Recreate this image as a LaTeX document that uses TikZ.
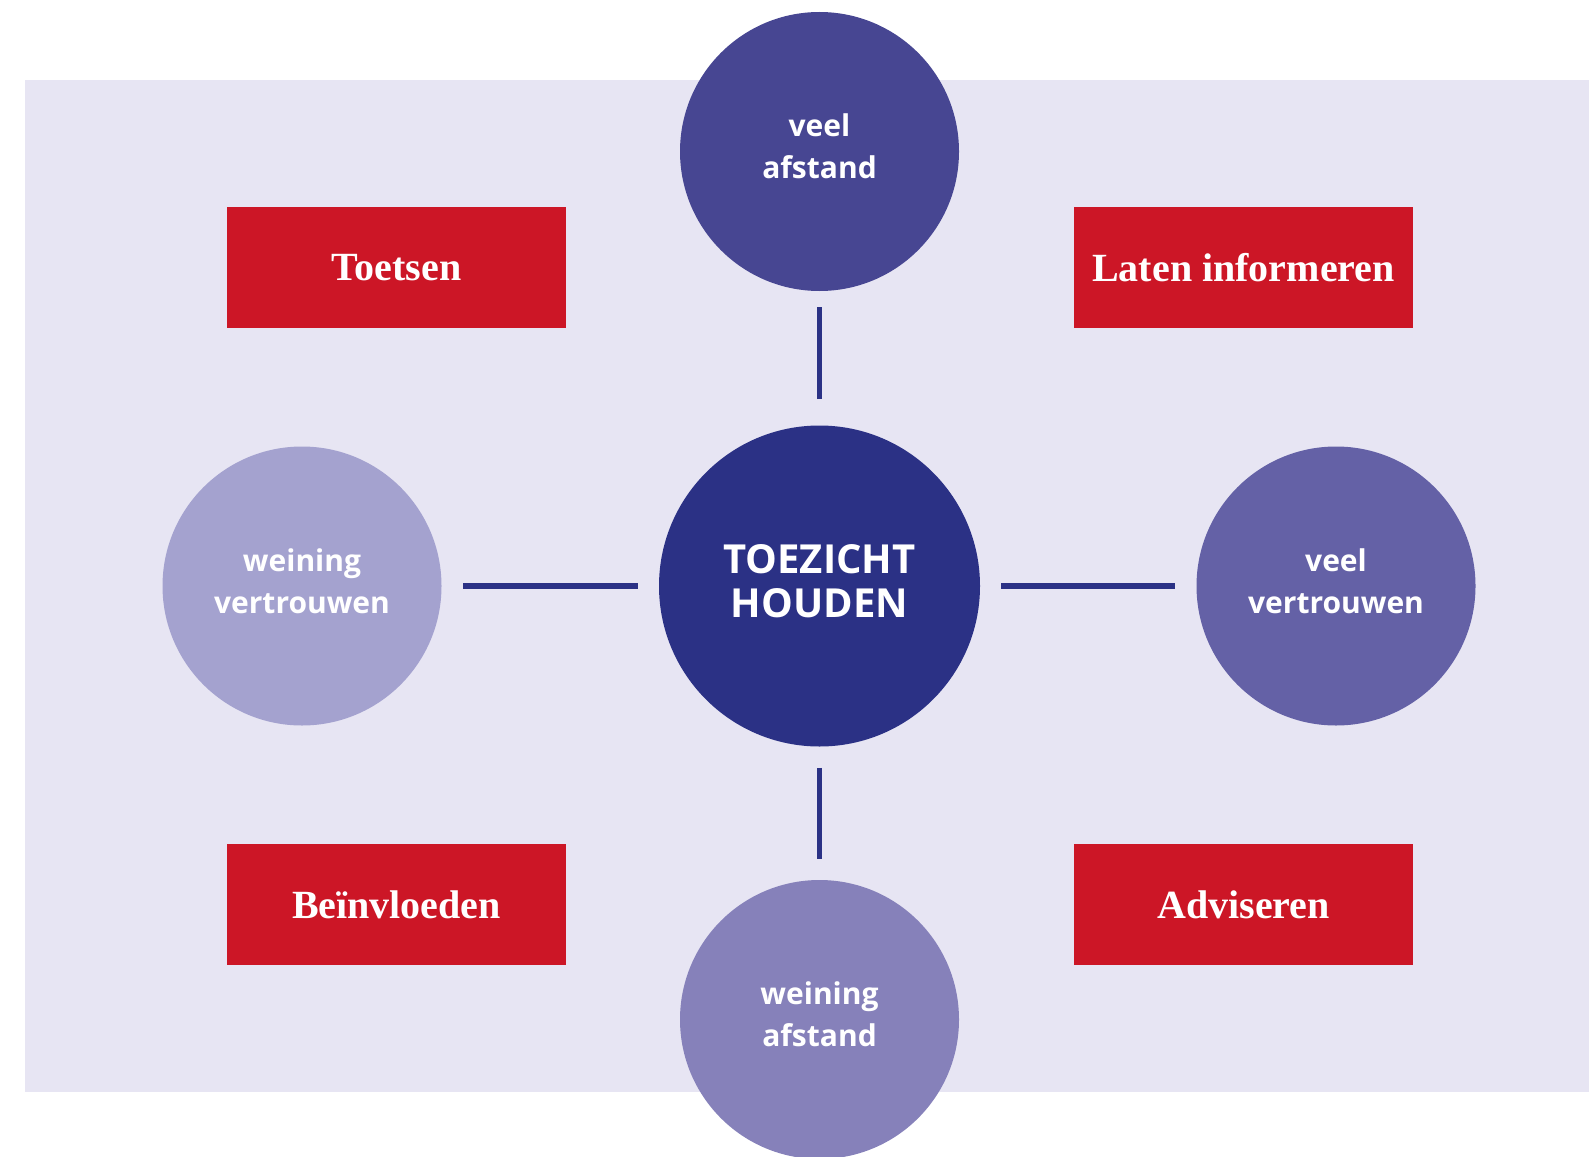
\documentclass[tikz,border=0pt]{standalone}
\usepackage{fontspec}
\setmainfont{Liberation Serif}
\newfontfamily\ringfont{Open Sans}

\definecolor{lavender}{HTML}{E7E5F3}
\definecolor{boxred}{HTML}{CC1626}
\definecolor{navy}{HTML}{2B3185}
\definecolor{ringtop}{HTML}{474692}
\definecolor{ringleft}{HTML}{A4A2CF}
\definecolor{ringright}{HTML}{6461A6}
\definecolor{ringbottom}{HTML}{8681BA}

\begin{document}
\begin{tikzpicture}[x=.5pt, y=-.5pt,
	ring/.style={circle, inner sep=0, text=white, align=center, minimum size=139.5pt,
		font=\ringfont\bfseries\fontsize{15}{21}\selectfont},
	hubring/.style={ring, minimum size=160.5pt,
		font=\ringfont\bfseries\fontsize{20}{22}\selectfont},
	tag/.style={fill=boxred, inner sep=0, minimum width=169.5pt, minimum height=60.5pt,
		text=white, font=\bfseries\fontsize{20}{22}\selectfont},
	link/.style={draw=navy, line width=2.75pt, shorten <=10.5pt, shorten >=10.5pt}]
	% \drawring#name#x#y#options#text
	\def\drawring#1#2#3#4#5{
		\node[#4] (#1) at (#2, #3) {#5\\[\dimexpr5pt-\baselineskip\relax]};
	}
	
	% \drawtag#name#x#y#text
	\def\drawtag#1#2#3#4{
		\node[tag] (#1) at (#2, #3) {#4};
	}
	
	\useasboundingbox (0, 0) rectangle (1589, 1156);
	
	% background
	\fill[lavender] (25, 80) rectangle (1589, 1092);
	
	% rings
	\drawring{hub}{819.5}{586}{hubring, fill=navy}{TOEZICHT\\HOUDEN}
	\drawring{top}{819.5}{151.5}{ring, fill=ringtop}{veel\\afstand}
	\drawring{left}{302}{586}{ring, fill=ringleft}{weining\\vertrouwen}
	\drawring{right}{1336}{586}{ring, fill=ringright}{veel\\vertrouwen}
	\drawring{bottom}{819.5}{1019.5}{ring, fill=ringbottom}{weining\\afstand}
	
	% links
	\draw[link, shorten <=13pt, shorten >=8pt] (hub) -- (top);
	\draw[link] (hub) -- (left);
	\draw[link] (hub) -- (right);
	\draw[link] (hub) -- (bottom);
	
	% tags
	\drawtag{toetsen}{396.5}{267.5}{Toetsen}
	\drawtag{informeren}{1243.5}{267.5}{Laten informeren}
	\drawtag{beinvloeden}{396.5}{904.5}{Beïnvloeden}
	\drawtag{adviseren}{1243.5}{904.5}{Adviseren}
\end{tikzpicture}
\end{document}
